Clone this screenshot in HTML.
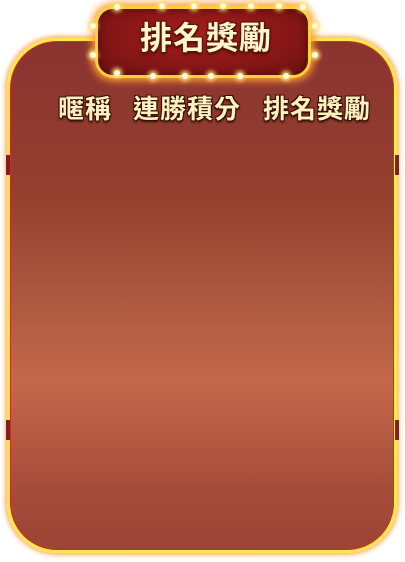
<!DOCTYPE html>
<html><head><meta charset="utf-8">
<style>
html,body{margin:0;padding:0;background:#fff;}
body{width:405px;height:562px;position:relative;overflow:hidden;font-family:"Liberation Sans","Noto Sans CJK TC",sans-serif;}
#panel{position:absolute;left:7px;top:38px;width:384px;height:509px;border:3px solid #ffe94a;border-radius:50px;
 box-shadow:0 0 5px 2px #ffb060, inset 0 0 0 1px #c9301e;
 background:linear-gradient(to bottom,#8a3330 0%,#94402f 30%,#b25d43 55%,#c4684c 67%,#b45a42 78%,#a64c3a 88%,#9c4435 100%);}
.notch{position:absolute;width:4px;height:20px;background:#7a2228;}
#plaque{position:absolute;left:95px;top:6px;width:210px;height:66px;border-radius:18px;
 background:radial-gradient(ellipse at 50% 40%,#a5201a 0%,#861616 60%,#6c1212 100%);
 border:3px solid #ffcf3a;box-shadow:0 0 8px 3px #ff9a30, inset 0 0 8px #4a0808;}
.bulb{position:absolute;width:6px;height:6px;border-radius:50%;background:#fffbe0;box-shadow:0 0 4px 2px #ffe070;}
#title{position:absolute;left:98px;top:18px;width:216px;text-align:center;font-size:32px;line-height:40px;font-weight:bold;color:#fff6d0;letter-spacing:1px;
 text-shadow:0 0 2px #5a1400,1px 1px 0 #5a1400,-1px -1px 0 #5a1400,1px -1px 0 #5a1400,-1px 1px 0 #5a1400,0 2px 3px #3a0a00;}
.hdr{position:absolute;top:92px;font-size:26px;line-height:34px;letter-spacing:1px;font-weight:bold;color:#fff2c0;
 text-shadow:1px 1px 0 #3a1000,-1px -1px 0 #3a1000,1px -1px 0 #3a1000,-1px 1px 0 #3a1000,0 2px 2px #2a0800;}
</style></head><body>
<div id="panel"></div>
<div class="notch" style="left:6px;top:155px"></div>
<div class="notch" style="left:6px;top:420px"></div>
<div class="notch" style="left:395px;top:155px"></div>
<div class="notch" style="left:395px;top:420px"></div>
<div id="plaque"></div>
<div id="bulbs"></div>
<div id="title">排名獎勵</div>
<div class="hdr" style="left:58px">暱稱</div>
<div class="hdr" style="left:133px">連勝積分</div>
<div class="hdr" style="left:263px">排名獎勵</div>
<script>
var bx=[117,162,194,223,251,279,303,93,93,315,315,117,153,185,211,240,286];
var by=[7,6,6,6,6,6,7,26,55,26,55,73,76,76,76,76,76];
var c=document.getElementById('bulbs');
for(var i=0;i<bx.length;i++){
 var d=document.createElement('div');
 d.className='bulb';
 
 
 d.style.left=(bx[i]-3)+'px';d.style.top=(by[i]-3)+'px';
 c.appendChild(d);
}
</script>
</body></html>
